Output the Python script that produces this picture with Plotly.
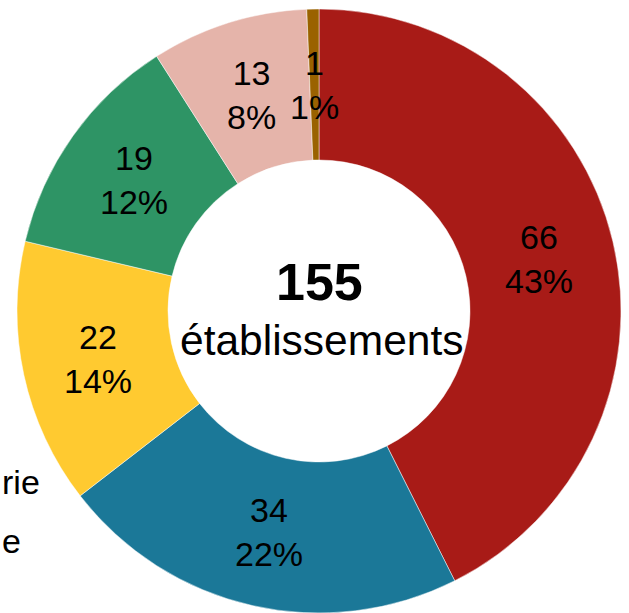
import math

import plotly.graph_objects as go

# slice data, clockwise from 12 o'clock
categories = ["A", "B", "C", "D", "E", "F"]
values = [66, 34, 22, 19, 13, 1]
colors = ["#A81B17", "#1B7898", "#FFCA30", "#2E9465", "#E5B4AA", "#9A6200"]
total_label = "155"
center_label = "établissements"
legend_fragments = ["rie", "e"]

W, H = 629, 613
CX, CY, R = 319, 311, 302  # pie centre / radius in pixels
HOLE = 0.5
FONT = "Liberation Sans, Arial, sans-serif"

fig = go.Figure(
    go.Pie(
        labels=categories,
        values=values,
        marker=dict(colors=colors, line=dict(color="rgba(255,255,255,0.6)", width=0.8)),
        hole=HOLE,
        sort=False,
        direction="clockwise",
        rotation=0,
        textinfo="none",
        hoverinfo="label+value+percent",
        showlegend=False,
        domain=dict(x=[(CX - R) / W, (CX + R) / W], y=[(H - CY - R) / H, (H - CY + R) / H]),
    )
)

# labels in the middle of the ring, at each slice's mid angle
total = sum(values)
r_mid = R * (1 + HOLE) / 2
cum = 0
for v in values:
    theta = (cum + v / 2) / total * 2 * math.pi
    cum += v
    x_px = CX + r_mid * math.sin(theta)
    y_px = CY - r_mid * math.cos(theta)
    fig.add_annotation(
        x=x_px / W, y=1 - y_px / H, xref="paper", yref="paper",
        text=f"{v}<br>{round(v / total * 100)}%",
        showarrow=False, xanchor="center", yanchor="middle",
        font=dict(family=FONT, size=34, color="black"),
    )

fig.add_annotation(
    x=319 / W, y=1 - 282 / H, xref="paper", yref="paper",
    text=f"<b>{total_label}</b>", showarrow=False,
    xanchor="center", yanchor="middle",
    font=dict(family=FONT, size=52, color="black"),
)
fig.add_annotation(
    x=321 / W, y=1 - 340 / H, xref="paper", yref="paper",
    text=center_label, showarrow=False,
    xanchor="center", yanchor="middle",
    font=dict(family=FONT, size=42.5, color="black"),
)

# legend text fragments on the left edge
for frag, yc in zip(legend_fragments, [482, 541]):
    fig.add_annotation(
        x=0, y=1 - yc / H, xref="paper", yref="paper",
        text=frag, showarrow=False, xanchor="left", yanchor="middle",
        font=dict(family=FONT, size=34, color="black"),
    )

fig.update_layout(
    width=W,
    height=H,
    margin=dict(l=0, r=0, t=0, b=0),
    paper_bgcolor="white",
    plot_bgcolor="white",
)

fig.write_html(
    "out.html",
    config={"displayModeBar": False},
    post_script="document.body.style.margin='0';document.body.style.overflow='hidden';",
)
